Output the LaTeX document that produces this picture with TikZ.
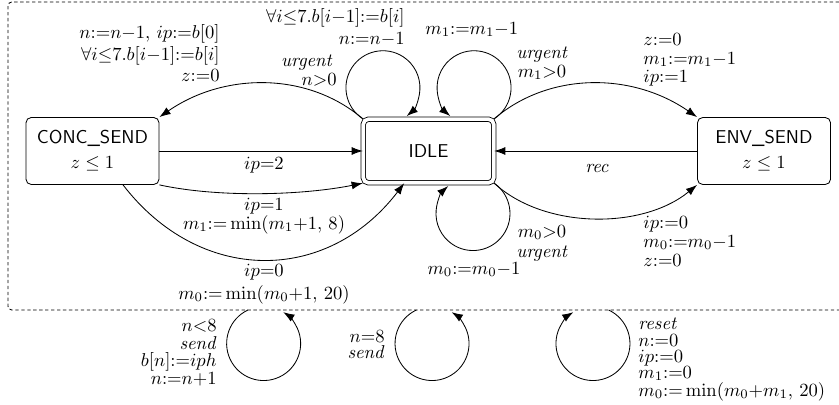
\documentclass[tikz,border=0pt]{standalone}
\usetikzlibrary{arrows.meta}
\begin{document}
\begin{tikzpicture}[x=0.5376pt,y=0.5376pt,line width=0.45pt,
  >={Latex[length=6pt,width=4.3pt]},
  state/.style={draw, rounded corners=2.8pt, minimum width=71.5pt, minimum height=36pt,
    align=center, inner sep=0pt, font=\fontsize{10}{13.4}\selectfont},
  region/.style={dash pattern=on 1.8pt off 1.4pt, rounded corners=2pt},
  lb/.style={inner sep=0pt, font=\normalsize},
  le/.style={lb, anchor=mid east},
  lw/.style={lb, anchor=mid west},
  lc/.style={lb, anchor=mid}]
\useasboundingbox (0,0) rectangle (839,-405);

% region (super-state)
\draw[region] (839,-2) -- (8,-2) -- (8,-310) -- (839,-310);
\coordinate (r1) at (248,-310);
\coordinate (r2) at (416.4,-310);
\coordinate (r3) at (608.6,-310);

% states
\node[state] (cs) at (92.5,-151) {\textsf{CONC\_SEND}\\$z\le 1$};
\node[state, double, double distance=1.95pt, minimum width=70.2pt, minimum height=34.2pt] (idle) at (428.5,-151) {\textsf{IDLE}};
\node[state] (es) at (764,-151) {\textsf{ENV\_SEND}\\$z\le 1$};

% edges
\draw[->] (idle.north west) .. controls +(-55,47) and +(65,45) .. (cs.north east);
\draw[->] (cs) -- (idle);
\draw[->] (cs.south east) .. controls +(60,-13) and +(-60,-12) .. (idle.south west);
\draw[->] (cs.-48) .. controls +(77,-100) and +(-77,-101) .. (idle.233);
\draw[->] (idle.north east) .. controls +(55,47) and +(-65,45) .. (es.north west);
\draw[->] (es) -- (idle);
\draw[->] (idle.south east) .. controls +(50,-46) and +(-55,-45) .. (es.south west);

% loops on IDLE
\draw[->] (idle.north west) arc[start angle=237, end angle=-50, radius=37];
\draw[->] (idle.north east) arc[start angle=303, end angle=590, radius=37];
\draw[->] (idle.south east) arc[start angle=55, end angle=-228, radius=37];

% loops on the region
\draw[->] (r1) arc[start angle=115, end angle=418, radius=37];
\draw[->] (r2) arc[start angle=115, end angle=418, radius=37];
\draw[->] (r3) arc[start angle=65, end angle=-238, radius=37];

% labels: IDLE -> CONC_SEND
\node[le] (a1) at (220,-34) {$n{:=}n{-}1,\, ip{:=}b[0]$};
\node[le] (a2) at (220,-56) {$\forall i{\le}7.b[i{-}1]{:=}b[i]$};
\node[le] (a3) at (220,-77) {$z{:=}0$};
\node[le] (u1) at (333,-62) {\textit{urgent}};
\node[le] (u2) at (337,-81) {$n{>}0$};
\node[le] (lp1) at (405,-18) {$\forall i{\le}7.b[i{-}1]{:=}b[i]$};
\node[le] (lp2) at (405,-40) {$n{:=}n{-}1$};
% loop m1
\node[lw] (m1a) at (425,-30) {$m_1{:=}m_1{-}1$};
\node[lc] (m1b) at (542,-54) {\textit{urgent}};
\node[lc] (m1c) at (542,-73) {$m_1{>}0$};
% IDLE -> ENV_SEND
\node[lw] (e1) at (643,-41) {$z{:=}0$};
\node[lw] (e2) at (643,-60) {$m_1{:=}m_1{-}1$};
\node[lw] (e3) at (643,-78) {$ip{:=}1$};
\node[lc] (rc) at (597,-168) {\textit{rec}};
% CONC_SEND -> IDLE
\node[lc] (i2) at (264,-165) {$ip{=}2$};
\node[lc] (i1a) at (264,-206) {$ip{=}1$};
\node[lc] (i1b) at (264,-225) {$m_1{:=}\min(m_1{+}1,\,8)$};
\node[lc] (i0a) at (264,-272) {$ip{=}0$};
\node[lc] (i0b) at (264,-295) {$m_0{:=}\min(m_0{+}1,\,20)$};
% IDLE -> ENV_SEND lower
\node[lw] (f1) at (643,-224) {$ip{:=}0$};
\node[lw] (f2) at (643,-243) {$m_0{:=}m_0{-}1$};
\node[lw] (f3) at (643,-262) {$z{:=}0$};
% loop m0
\node[lc] (m0a) at (542,-233) {$m_0{>}0$};
\node[lc] (m0b) at (542,-253) {\textit{urgent}};
\node[lc] (m0c) at (474,-270) {$m_0{:=}m_0{-}1$};
% region loops
\node[le] (s1) at (217,-327) {$n{<}8$};
\node[le] (s2) at (217,-345) {\textit{send}};
\node[le] (s3) at (217,-362) {$b[n]{:=}iph$};
\node[le] (s4) at (217,-380) {$n{:=}n{+}1$};
\node[le] (t1) at (385,-338) {$n{=}8$};
\node[le] (t2) at (385,-354) {\textit{send}};
\node[lw] (q1) at (638,-325) {\textit{reset}};
\node[lw] (q2) at (638,-342) {$n{:=}0$};
\node[lw] (q3) at (638,-358) {$ip{:=}0$};
\node[lw] (q4) at (638,-374) {$m_1{:=}0$};
\node[lw] (q5) at (638,-392) {$m_0{:=}\min(m_0{+}m_1,\,20)$};
\end{tikzpicture}
\end{document}
